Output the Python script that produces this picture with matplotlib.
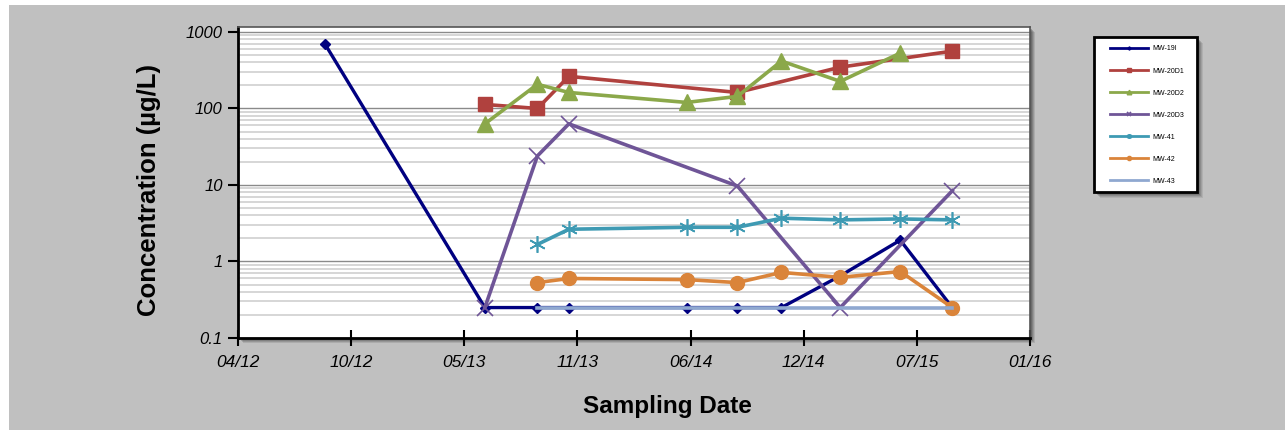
import matplotlib
matplotlib.use("Agg")
import matplotlib.pyplot as plt
import matplotlib.dates as mdates
from matplotlib.patches import Rectangle
import numpy as np
import datetime as dt

# ---------------- data ----------------
sample_dates = ['2012-09-09', '2013-06-16', '2013-09-16', '2013-11-10', '2014-06-04',
                '2014-09-01', '2014-11-17', '2015-02-28', '2015-06-13', '2015-09-12']

mw19i_idx = [0, 1, 2, 3, 4, 5, 6, 7, 8, 9]
mw19i_val = [700, 0.25, 0.25, 0.25, 0.25, 0.25, 0.25, 0.65, 1.9, 0.25]

mw20d1_idx = [1, 2, 3, 5, 7, 9]
mw20d1_val = [113, 100, 263, 162, 347, 562]

mw20d2_idx = [1, 2, 3, 4, 5, 6, 7, 8]
mw20d2_val = [63, 207, 162, 120, 144, 417, 226, 530]

mw20d3_idx = [1, 2, 3, 5, 7, 9]
mw20d3_val = [0.25, 24, 63, 9.7, 0.25, 8.4]

mw41_idx = [2, 3, 4, 5, 6, 7, 8, 9]
mw41_val = [1.67, 2.64, 2.8, 2.8, 3.68, 3.5, 3.6, 3.5]

mw42_idx = [2, 3, 4, 5, 6, 7, 8, 9]
mw42_val = [0.53, 0.60, 0.58, 0.53, 0.72, 0.62, 0.74, 0.25]

mw43_idx = [2, 3, 4, 5, 6, 7, 8, 9]
mw43_val = [0.25, 0.25, 0.25, 0.25, 0.25, 0.25, 0.25, 0.25]

series_names = ['MW-19I', 'MW-20D1', 'MW-20D2', 'MW-20D3', 'MW-41', 'MW-42', 'MW-43']

axis_start = '2012-04-10'
tick_step_days = 198
n_ticks = 8
y_ticks = [0.1, 1, 10, 100, 1000]
y_tick_labels = ['0.1', '1', '10', '100', '1000']

# ---------------- figure ----------------
W, H = 1285, 430
fig = plt.figure(figsize=(W / 100, H / 100), dpi=100, facecolor='white')

def px_rect(x0, y0, x1, y1, **kw):
    """rectangle given in figure pixel coords (top-left origin)"""
    return Rectangle((x0 / W, 1 - y1 / H), (x1 - x0) / W, (y1 - y0) / H,
                     transform=fig.transFigure, **kw)

gray = '#C0C0C0'
fig.patches.append(px_rect(9, 5, W, H, facecolor=gray, edgecolor='none', zorder=-10))

L, R, T, B = 238, 1030, 27, 338
# soft shadow for plot area
for k, a in [(5, 0.15), (4, 0.2), (3, 0.25), (2, 0.3)]:
    fig.patches.append(px_rect(L + k, T + k, R + k, B + k, facecolor='#404040', edgecolor='none',
                               alpha=a, zorder=-5))
ax = fig.add_axes([L / W, (H - B) / H, (R - L) / W, (B - T) / H])
ax.set_facecolor('white')

d = [dt.datetime.strptime(s, '%Y-%m-%d') for s in sample_dates]
start = dt.datetime.strptime(axis_start, '%Y-%m-%d')
ticks = [start + dt.timedelta(days=tick_step_days * i) for i in range(n_ticks)]

colors = ['#000080', '#B0413E', '#8BA84A', '#6F5597', '#3E9AB3', '#DA843A', '#8FA8D0']
specs = [
    (mw19i_idx, mw19i_val, dict(marker='D', markersize=5.5, lw=2.4)),
    (mw20d1_idx, mw20d1_val, dict(marker='s', markersize=10, lw=2.6)),
    (mw20d2_idx, mw20d2_val, dict(marker='^', markersize=11, lw=2.6)),
    (mw20d3_idx, mw20d3_val, dict(marker='x', markersize=11, mew=1.2, lw=2.6)),
    (mw41_idx, mw41_val, dict(marker=(6, 2, 0), markersize=12, mew=1.2, lw=2.6)),
    (mw42_idx, mw42_val, dict(marker='o', markersize=10, lw=2.6)),
    (mw43_idx, mw43_val, dict(marker='None', lw=2.6)),
]
handles = []
for (idx, vals, kw), c, name in zip(specs, colors, series_names):
    xs = [d[i] for i in idx]
    h, = ax.plot(xs, vals, color=c, label=name, solid_joinstyle='miter', clip_on=False, **kw)
    handles.append(h)

ax.set_yscale('log')
ax.set_ylim(0.1, 1162)
ax.set_xlim(ticks[0], ticks[-1])
ax.set_xticks(ticks)
ax.xaxis.set_major_formatter(mdates.DateFormatter('%m/%y'))
ax.set_yticks(y_ticks)
ax.set_yticklabels(y_tick_labels)
ax.yaxis.set_minor_formatter(matplotlib.ticker.NullFormatter())
ax.grid(True, which='major', axis='y', color='#8a8a8a', lw=1.0)
ax.grid(True, which='minor', axis='y', color='#cfcfcf', lw=1.2)
ax.set_axisbelow(True)
ax.tick_params(axis='y', which='minor', length=0)
ax.tick_params(axis='y', which='major', direction='out', length=7, width=1.5, color='black', pad=4)
ax.tick_params(axis='x', which='major', direction='inout', length=11, width=1.5, color='black', pad=7)

fam = ['Liberation Sans Narrow', 'Liberation Sans', 'DejaVu Sans']
for lab in ax.get_xticklabels():
    lab.set_family(fam)
    lab.set_style('italic')
    lab.set_fontsize(12.5)
for lab in ax.get_yticklabels():
    lab.set_family(fam)
    lab.set_style('italic')
    lab.set_fontsize(12)

for s in ['left', 'bottom']:
    ax.spines[s].set_color('black')
    ax.spines[s].set_linewidth(2)
for s in ['top', 'right']:
    ax.spines[s].set_color('#555555')
    ax.spines[s].set_linewidth(1.2)

fig.text(667 / W, 1 - 413 / H, 'Sampling Date', ha='center', va='baseline',
         fontsize=17.5, fontweight='bold', family=['Liberation Sans', 'DejaVu Sans'])
fig.text(149 / W, 1 - 190 / H, 'Concentration (µg/L)', ha='center', va='center', rotation=90,
         fontsize=18.5, fontweight='bold', family=['Liberation Sans', 'DejaVu Sans'])

# legend box (manual frame + shadow)
LX0, LY0, LX1, LY1 = 1094, 37, 1197, 192
for k, a in [(6, 0.12), (5, 0.15), (4, 0.2), (3, 0.25), (2, 0.3)]:
    fig.patches.append(px_rect(LX0 + k, LY0 + k, LX1 + k, LY1 + k, facecolor='#404040',
                               edgecolor='none', alpha=a, zorder=1))
fig.patches.append(px_rect(LX0, LY0, LX1, LY1, facecolor='white', edgecolor='black', lw=2, zorder=2))

leg = fig.legend(handles=handles, labels=series_names, loc='upper left',
                 bbox_to_anchor=(1110 / W, 1 - 45.5 / H), markerscale=0.3,
                 handlelength=5.4, handletextpad=0.7, labelspacing=2.17, borderpad=0,
                 borderaxespad=0, frameon=False,
                 prop={'family': ['Liberation Sans', 'DejaVu Sans'], 'size': 5.0})
leg.set_zorder(3)
for lh in leg.get_lines():
    lh.set_linewidth(2)

fig.savefig('out.png', dpi=100, facecolor=fig.get_facecolor())
